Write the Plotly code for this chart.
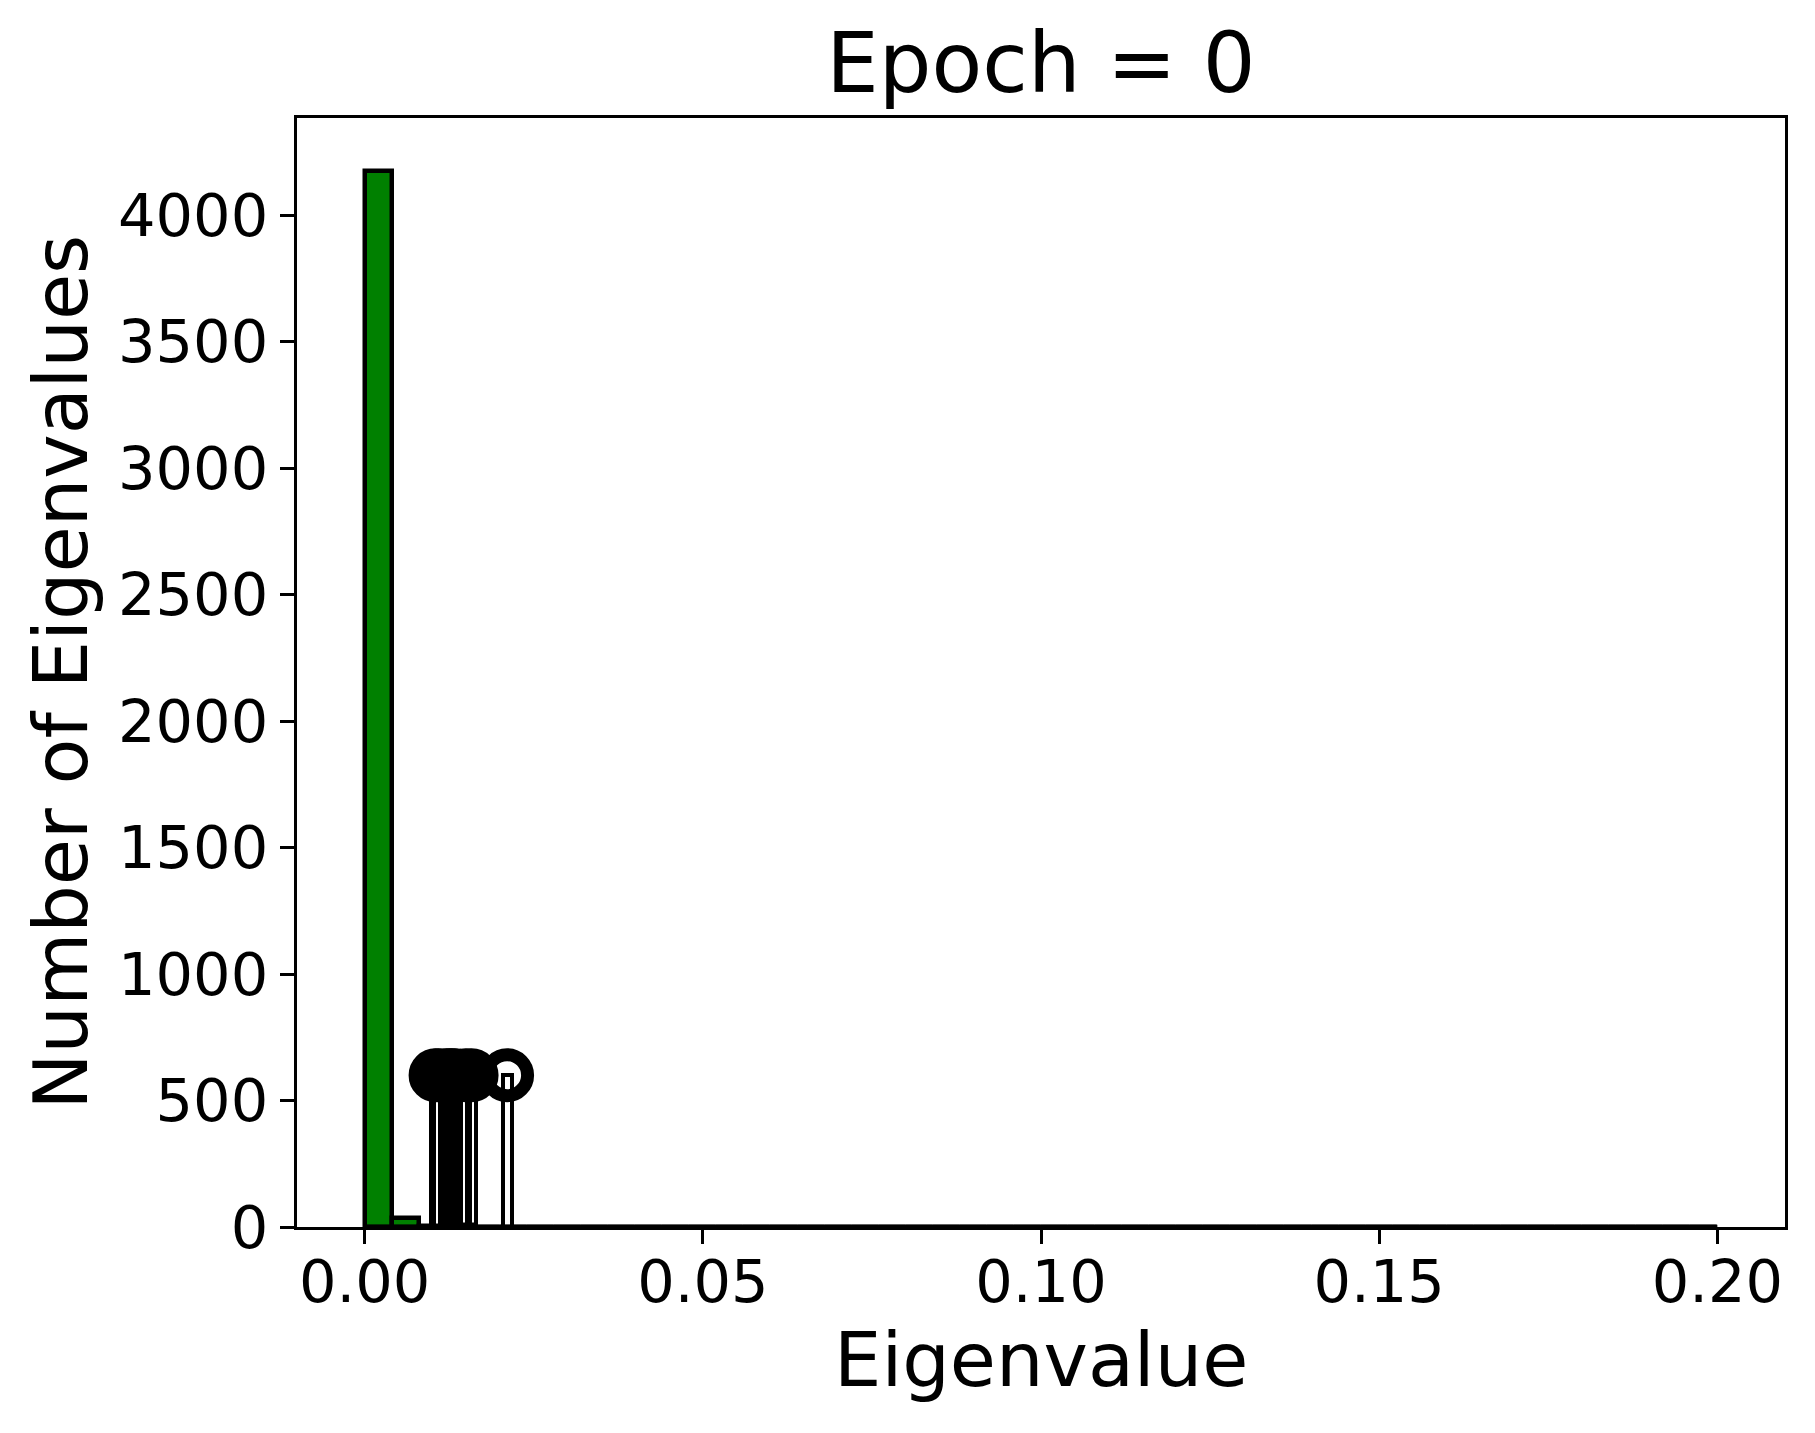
import plotly.graph_objects as go

# histogram of eigenvalues (50 bins over 0 .. 0.2)
bin_start = 0.0
bin_width = 0.004
bin_counts = [4175, 34, 2, 6, 0, 1, 0, 0, 0, 0,
              0, 0, 0, 0, 0, 0, 0, 0, 0, 0,
              0, 0, 0, 0, 0, 0, 0, 0, 0, 0,
              0, 0, 0, 0, 0, 0, 0, 0, 0, 0,
              0, 0, 0, 0, 0, 0, 0, 0, 0, 0]

# outlier eigenvalues marked with stems
outliers = [0.01049, 0.01094, 0.01205, 0.01249, 0.01293, 0.01338,
            0.01493, 0.01581, 0.02106]
stem_height = 600

x_ticks = [0.0, 0.05, 0.10, 0.15, 0.20]
y_ticks = [0, 500, 1000, 1500, 2000, 2500, 3000, 3500, 4000]

title_text = "Epoch = 0"
x_label = "Eigenvalue"
y_label = "Number of Eigenvalues"

FONT = "DejaVu Sans"
# page body has an 8px margin, so the figure is a bit smaller than the window
W, H = 1807, 1425
ML, MR, MT, MB = 289, 30, 110, 206
PW, PH = W - ML - MR, H - MT - MB

edges = [bin_start + i * bin_width for i in range(len(bin_counts) + 1)]
centers = [(edges[i] + edges[i + 1]) / 2 for i in range(len(bin_counts))]

fig = go.Figure()

# zero-height bins still leave their edge along the baseline
fig.add_trace(go.Scatter(x=[edges[0], edges[-1]], y=[0, 0], mode="lines",
                         line=dict(color="black", width=4.5),
                         showlegend=False, hoverinfo="skip"))

fig.add_trace(go.Bar(x=centers, y=bin_counts, width=bin_width,
                     marker=dict(color="#008000", line=dict(color="black", width=4.5)),
                     showlegend=False))

fig.add_trace(go.Bar(x=outliers, y=[stem_height] * len(outliers), width=0.00133,
                     marker=dict(color="rgba(0,0,0,0)", line=dict(color="black", width=4)),
                     showlegend=False))

fig.add_trace(go.Scatter(x=outliers, y=[stem_height] * len(outliers), mode="markers",
                         marker=dict(symbol="circle-open", size=41, color="black",
                                     line=dict(color="black", width=13)),
                         cliponaxis=False, showlegend=False))

axis_common = dict(showgrid=False, zeroline=False, showline=True, linecolor="black",
                   linewidth=3, mirror=True, ticks="outside", ticklen=14, tickwidth=3,
                   tickcolor="black", tickfont=dict(family=FONT, size=59, color="black"))

fig.update_xaxes(range=[-0.01, 0.21], tickvals=x_ticks,
                 ticktext=[f"{v:.2f}" for v in x_ticks], ticklabelstandoff=-13,
                 **axis_common)
fig.update_yaxes(range=[0, 4384], tickvals=y_ticks,
                 ticktext=[str(v) for v in y_ticks], ticklabelstandoff=0,
                 **axis_common)

fig.update_layout(
    width=W, height=H,
    margin=dict(l=ML, r=MR, t=MT, b=MB, autoexpand=False),
    paper_bgcolor="white", plot_bgcolor="white",
    barmode="overlay", bargap=0,
    title=dict(text=title_text, font=dict(family=FONT, size=83, color="black"),
               x=(ML + PW / 2) / W, xanchor="center",
               y=1 - 55 / H, yanchor="middle"),
    annotations=[
        dict(text=x_label, xref="paper", yref="paper", x=0.5, y=-(1352 - (H - MB)) / PH,
             xanchor="center", yanchor="middle", showarrow=False,
             font=dict(family=FONT, size=75, color="black")),
        dict(text=y_label, xref="paper", yref="paper", x=-(ML - 52) / PW, y=0.5,
             xanchor="center", yanchor="middle", textangle=-90, showarrow=False,
             font=dict(family=FONT, size=75, color="black")),
    ],
)

fig.write_html("out.html")
